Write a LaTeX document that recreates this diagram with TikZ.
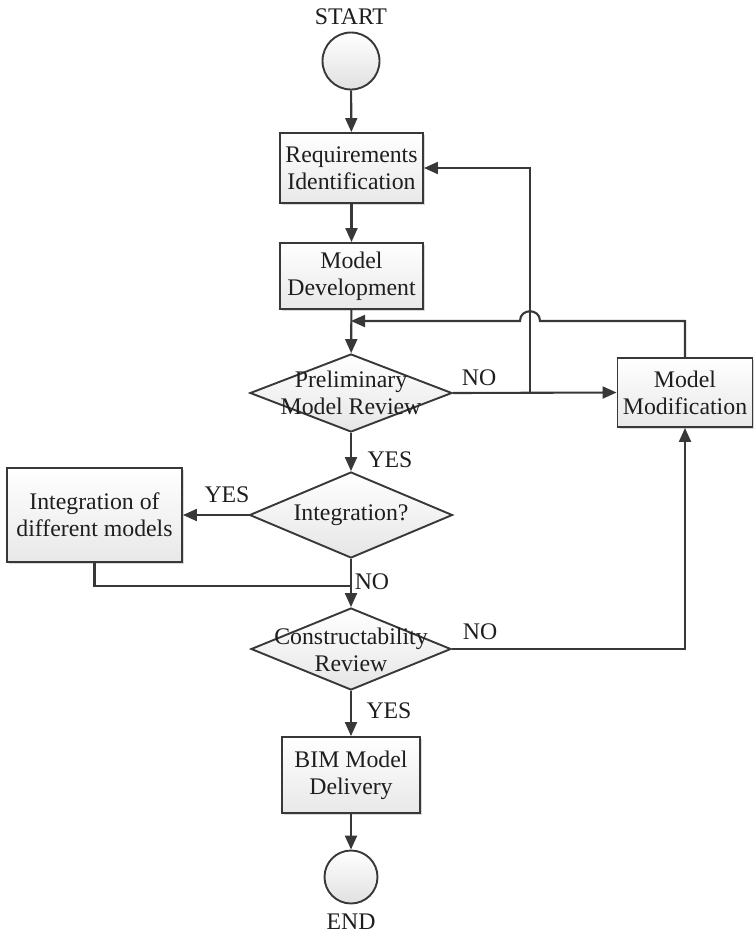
\documentclass[tikz,border=0pt]{standalone}
\usepackage{fontspec}
\setmainfont{Liberation Serif}
\usetikzlibrary{arrows.meta,shapes.geometric,shadows}

\definecolor{linecol}{HTML}{383838}
\definecolor{txtcol}{HTML}{1E1E1E}

\tikzset{
  base/.style={font=\fontsize{23.8}{27}\selectfont, text=txtcol},
  procbox/.style={base, draw=linecol, line width=1.9pt, rectangle, align=center,
    inner sep=0pt, top color=white, bottom color=black!9,
    drop shadow={shadow xshift=2pt, shadow yshift=-2pt, opacity=0.25, fill=black!60}},
  decision/.style={draw=linecol, line width=1.9pt, diamond, inner sep=0pt,
    top color=white, bottom color=black!10},
  dtext/.style={base, align=center, inner sep=0pt},
  terminal/.style={draw=linecol, line width=1.9pt, circle, inner sep=0pt,
    top color=white, bottom color=black!12},
  lbl/.style={base, inner sep=0pt},
  flow/.style={draw=linecol, line width=2.1pt, -{Triangle[length=14pt,width=12pt]}},
  wire/.style={draw=linecol, line width=2.1pt}
}

\begin{document}
\begin{tikzpicture}[x=1pt,y=-1pt]
\useasboundingbox (0,0) rectangle (753,935);

% terminals
\node[lbl] (starttxt) at (351,17) {START};
\node[terminal, minimum size=57pt] (startc) at (351,61) {};
\node[terminal, minimum size=53pt] (endc) at (351,877) {};
\node[lbl] (endtxt) at (351,922) {END};

% process boxes
\node[procbox, minimum width=143pt, minimum height=70pt] (req) at (351.5,168) {Requirements\\Identification};
\node[procbox, minimum width=143pt, minimum height=66pt] (dev) at (351.5,276) {Model\\Development};
\node[procbox, minimum width=135pt, minimum height=69pt] (mod) at (685,392.5) {Model\\Modification};
\node[procbox, minimum width=175pt, minimum height=94pt] (intbox) at (94.5,515) {Integration of\\different models};
\node[procbox, minimum width=138pt, minimum height=76pt] (bim) at (351,775) {BIM Model\\Delivery};

% decisions
\node[decision, minimum width=202pt, minimum height=78pt] (prelim) at (351,393) {};
\node[dtext] (prelimtxt) at (351,393) {Preliminary\\Model Review};
\node[decision, minimum width=203pt, minimum height=86pt] (integ) at (351,515) {};
\node[dtext] (integtxt) at (351,515) {Integration?};
\node[decision, minimum width=200pt, minimum height=82pt] (constr) at (351,649) {};
\node[dtext] (constrtxt) at (351,650) {Constructability\\Review};

% junction points
\coordinate (split) at (530,393);
\coordinate (merge) at (351,321);
\coordinate (join) at (351,586);

% main flow
\draw[flow] (startc) -- (req);
\draw[flow] (req) -- (dev);
\draw[flow] (dev) -- (prelim);
\draw[flow] (prelim) -- (integ);
\draw[flow] (integ) -- (constr);
\draw[flow] (constr) -- (bim);
\draw[flow] (bim) -- (endc);

% review rejected: back to requirements and on to modification
\draw[flow] (prelim.east) -- (mod.west);
\draw[flow] (split) |- (req.east);

% modified model returns above the review, hopping over the loop line
\draw[flow] (mod.north) |- (540,321)
  .. controls (540,308) and (520,308) .. (520,321) -- (merge);

% integration branch
\draw[flow] (integ.west) -- (intbox.east);
\draw[wire] (intbox.south) |- (join);

% constructability rejected
\draw[flow] (constr.east) -| (mod.south);

% branch labels
\node[lbl] (no1) at (479,378) {NO};
\node[lbl] (yes1) at (390,460) {YES};
\node[lbl] (yes2) at (227,495) {YES};
\node[lbl] (no2) at (372,582) {NO};
\node[lbl] (no3) at (480,632) {NO};
\node[lbl] (yes3) at (389,711) {YES};
\end{tikzpicture}
\end{document}
